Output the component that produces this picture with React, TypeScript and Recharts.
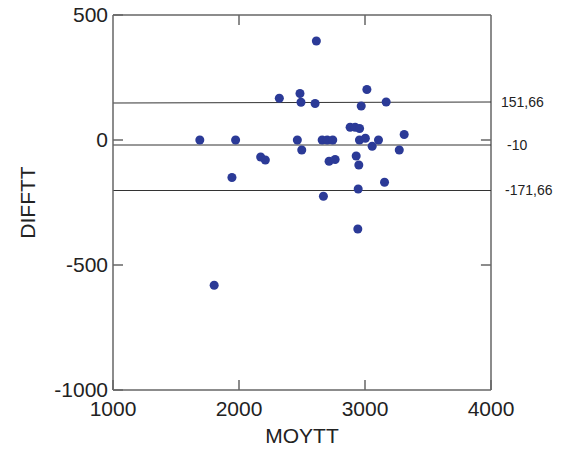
import React from 'react';
import { ScatterChart, Scatter, XAxis, YAxis, ReferenceLine } from 'recharts';

// MOYTT (x) / DIFFTT (y) pairs
const moytt = [
  2614, 2320, 2484, 2492, 2604, 3015, 2970, 3168, 2882, 2922, 2957,
  1689, 1973, 2463, 2660, 2700, 2744, 2956, 3003, 3107, 3311,
  2498, 3057, 3272, 2172, 2209, 1944, 2715, 2763, 2930, 2951,
  3155, 2946, 2670, 2943, 1803,
];
const difftt = [
  396, 167, 186, 151, 146, 202, 136, 152, 51, 51, 46,
  0, 0, 0, 0, 0, 0, 0, 7, 0, 22,
  -40, -25, -40, -68, -80, -150, -85, -78, -64, -100,
  -169, -196, -225, -356, -581,
];

const xTicks = [1000, 2000, 3000, 4000];
const yTicks = [-1000, -500, 0, 500];

// limit lines: [left y, right y, label]
const limitLines: [number, number, string][] = [
  [148, 152, '151,66'],
  [-20, -20, '-10'],
  [-202, -202, '-171,66'],
];
const labelOffsets = [10, 16, 14];

const points = moytt.map((x, i) => ({ x, y: difftt[i] }));

const App: React.FC = () => {
  const tickStyle = { fontSize: 21, fill: '#222', fontFamily: 'Liberation Sans, Arial, sans-serif' };
  const frame = { stroke: '#666', strokeWidth: 1.5 };

  return (
    <div style={{ position: 'absolute', left: 0, top: 0, background: '#fff' }}>
      <ScatterChart
        width={570}
        height={449}
        margin={{ top: 15, right: 79, bottom: 0, left: 13 }}
        style={{ fontFamily: 'Liberation Sans, Arial, sans-serif' }}
      >
        <XAxis
          dataKey="x"
          type="number"
          domain={[1000, 4000]}
          ticks={xTicks}
          height={59}
          tickSize={-10}
          tickMargin={21}
          tick={tickStyle}
          tickLine={frame}
          axisLine={frame}
          label={{ value: 'MOYTT', position: 'insideBottom', offset: 6, fontSize: 21, fill: '#222' }}
        />
        <YAxis
          dataKey="y"
          type="number"
          domain={[-1000, 500]}
          ticks={yTicks}
          width={100}
          tickSize={-10}
          tickMargin={15}
          tick={tickStyle}
          tickLine={frame}
          axisLine={frame}
          label={{ value: 'DIFFTT', angle: -90, position: 'insideLeft', offset: 15, fontSize: 21, fill: '#222', style: { textAnchor: 'middle' } }}
        />
        {/* top and right frame with inward ticks */}
        <ReferenceLine y={500} stroke="#666" strokeWidth={1.5} />
        <ReferenceLine x={4000} stroke="#666" strokeWidth={1.5} />
        {xTicks.slice(1, -1).map((t) => (
          <ReferenceLine key={'tx' + t} segment={[{ x: t, y: 500 }, { x: t, y: 460 }]} stroke="#666" strokeWidth={1.5} />
        ))}
        {yTicks.slice(1, -1).map((t) => (
          <ReferenceLine key={'ty' + t} segment={[{ x: 4000, y: t }, { x: 3920, y: t }]} stroke="#666" strokeWidth={1.5} />
        ))}
        {limitLines.map(([y1, y2, text], i) => (
          <ReferenceLine
            key={text}
            segment={[{ x: 1000, y: y1 }, { x: 4000, y: y2 }]}
            stroke="#333"
            strokeWidth={1}
            label={{ value: text, position: 'right', offset: labelOffsets[i], fontSize: 14, fill: '#222' }}
          />
        ))}
        <Scatter data={points} fill="#2b3a97" shape="circle" isAnimationActive={false} />
      </ScatterChart>
    </div>
  );
};

export default App;
